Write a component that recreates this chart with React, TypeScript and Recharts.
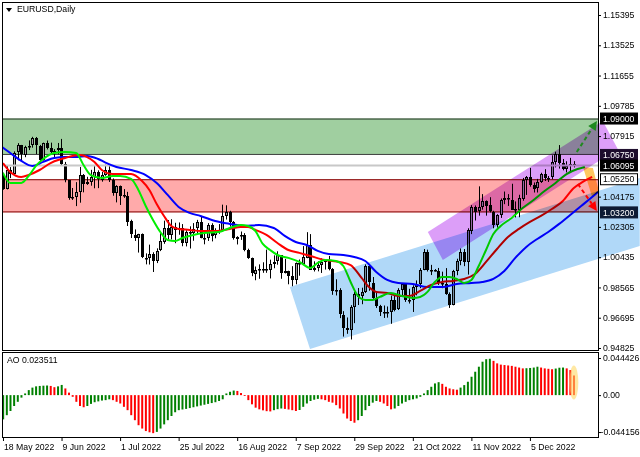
import React from "react";
import {
  Bar, Cell, ComposedChart, Line, ReferenceArea, ReferenceDot, ReferenceLine, XAxis, YAxis,
} from "recharts";

const FONT = "'Liberation Sans', Arial, sans-serif";
const FS = 8.7;

// daily bars [open, high, low, close], 18 May 2022 -> 21 Dec 2022
const barsMay = [
  [1.0550, 1.0565, 1.0460, 1.0465], [1.0465, 1.0606, 1.0462, 1.0585], [1.0585, 1.0600, 1.0532, 1.0563],
  [1.0563, 1.0697, 1.0557, 1.0690], [1.0690, 1.0748, 1.0642, 1.0734], [1.0734, 1.0737, 1.0643, 1.0676],
  [1.0676, 1.0732, 1.0661, 1.0726], [1.0726, 1.0765, 1.0705, 1.0733], [1.0733, 1.0787, 1.0720, 1.0778],
  [1.0778, 1.0786, 1.0680, 1.0733],
];
const barsJun = [
  [1.0733, 1.0737, 1.0627, 1.0648], [1.0648, 1.0751, 1.0640, 1.0750], [1.0750, 1.0764, 1.0709, 1.0719],
  [1.0719, 1.0751, 1.0683, 1.0696], [1.0696, 1.0711, 1.0652, 1.0702], [1.0702, 1.0749, 1.0679, 1.0715],
  [1.0715, 1.0774, 1.0611, 1.0617], [1.0617, 1.0632, 1.0506, 1.0518], [1.0518, 1.0520, 1.0398, 1.0407],
  [1.0407, 1.0471, 1.0397, 1.0414], [1.0414, 1.0507, 1.0359, 1.0445], [1.0445, 1.0601, 1.0380, 1.0550],
  [1.0550, 1.0557, 1.0444, 1.0495], [1.0495, 1.0540, 1.0490, 1.0508], [1.0508, 1.0583, 1.0485, 1.0537],
  [1.0537, 1.0606, 1.0469, 1.0567], [1.0567, 1.0580, 1.0470, 1.0522], [1.0522, 1.0570, 1.0510, 1.0554],
  [1.0554, 1.0615, 1.0546, 1.0584], [1.0584, 1.0606, 1.0508, 1.0520], [1.0520, 1.0530, 1.0423, 1.0442],
  [1.0442, 1.0488, 1.0382, 1.0484],
];
const barsJul = [
  [1.0484, 1.0486, 1.0366, 1.0425], [1.0425, 1.0464, 1.0410, 1.0424], [1.0424, 1.0447, 1.0236, 1.0265],
  [1.0265, 1.0275, 1.0162, 1.0182], [1.0182, 1.0215, 1.0144, 1.0161], [1.0161, 1.0188, 1.0072, 1.0185],
  [1.0185, 1.0190, 1.0038, 1.0040], [1.0040, 1.0067, 0.9999, 1.0037], [1.0037, 1.0121, 0.9998, 1.0063],
  [1.0063, 1.0074, 0.9952, 1.0019], [1.0019, 1.0098, 1.0007, 1.0083], [1.0083, 1.0200, 1.0081, 1.0141],
  [1.0141, 1.0269, 1.0126, 1.0226], [1.0226, 1.0273, 1.0154, 1.0180], [1.0180, 1.0278, 1.0153, 1.0229],
  [1.0229, 1.0256, 1.0130, 1.0211], [1.0211, 1.0258, 1.0182, 1.0224], [1.0224, 1.0248, 1.0111, 1.0133],
  [1.0133, 1.0210, 1.0110, 1.0198], [1.0198, 1.0234, 1.0097, 1.0196], [1.0196, 1.0254, 1.0145, 1.0220],
];
const barsAug = [
  [1.0220, 1.0274, 1.0187, 1.0260], [1.0260, 1.0294, 1.0160, 1.0163], [1.0163, 1.0196, 1.0123, 1.0165],
  [1.0165, 1.0254, 1.0144, 1.0245], [1.0245, 1.0253, 1.0141, 1.0180], [1.0180, 1.0222, 1.0160, 1.0196],
  [1.0196, 1.0248, 1.0188, 1.0211], [1.0211, 1.0368, 1.0201, 1.0298], [1.0298, 1.0364, 1.0276, 1.0320],
  [1.0320, 1.0330, 1.0232, 1.0258], [1.0258, 1.0267, 1.0152, 1.0160], [1.0160, 1.0173, 1.0122, 1.0170],
  [1.0170, 1.0202, 1.0150, 1.0178], [1.0178, 1.0192, 1.0080, 1.0088], [1.0088, 1.0096, 1.0033, 1.0037],
  [1.0037, 1.0041, 0.9926, 0.9942], [0.9942, 0.9986, 0.9901, 0.9967], [0.9967, 0.9999, 0.9910, 0.9970],
  [0.9970, 1.0012, 0.9947, 0.9973], [0.9973, 1.0090, 0.9947, 0.9964], [0.9964, 1.0028, 0.9912, 1.0004],
  [1.0004, 1.0055, 0.9975, 1.0016], [1.0016, 1.0080, 0.9997, 1.0055],
];
const barsSep = [
  [1.0055, 1.0056, 0.9910, 0.9945], [0.9945, 1.0033, 0.9943, 0.9956], [0.9956, 0.9960, 0.9876, 0.9928],
  [0.9928, 0.9988, 0.9864, 0.9904], [0.9904, 1.0011, 0.9876, 1.0009], [1.0009, 1.0029, 0.9929, 1.0000],
  [1.0000, 1.0112, 0.9995, 1.0042], [1.0042, 1.0198, 1.0037, 1.0121], [1.0121, 1.0186, 0.9966, 0.9968],
  [0.9968, 1.0018, 0.9955, 0.9978], [0.9978, 1.0018, 0.9956, 0.9998], [0.9998, 1.0036, 0.9946, 1.0014],
  [1.0014, 1.0030, 0.9967, 1.0027], [1.0027, 1.0051, 0.9962, 0.9971], [0.9971, 0.9976, 0.9811, 0.9837],
  [0.9837, 0.9907, 0.9807, 0.9838], [0.9838, 0.9852, 0.9667, 0.9688], [0.9688, 0.9710, 0.9553, 0.9607],
  [0.9607, 0.9671, 0.9570, 0.9593], [0.9593, 0.9747, 0.9535, 0.9735], [0.9735, 0.9830, 0.9636, 0.9817],
  [0.9817, 0.9853, 0.9748, 0.9801],
];
const barsOct = [
  [0.9801, 0.9855, 0.9753, 0.9827], [0.9827, 0.9999, 0.9822, 0.9986], [0.9986, 0.9997, 0.9836, 0.9885],
  [0.9885, 0.9921, 0.9786, 0.9792], [0.9792, 0.9828, 0.9730, 0.9740], [0.9740, 0.9749, 0.9680, 0.9701],
  [0.9701, 0.9745, 0.9668, 0.9705], [0.9705, 0.9739, 0.9670, 0.9703], [0.9703, 0.9806, 0.9632, 0.9780],
  [0.9780, 0.9809, 0.9709, 0.9719], [0.9719, 0.9852, 0.9717, 0.9838], [0.9838, 0.9876, 0.9805, 0.9875],
  [0.9875, 0.9876, 0.9767, 0.9775], [0.9775, 0.9848, 0.9757, 0.9780], [0.9780, 0.9870, 0.9705, 0.9862],
  [0.9862, 0.9900, 0.9808, 0.9880], [0.9880, 0.9976, 0.9852, 0.9965], [0.9965, 1.0094, 0.9963, 1.0076],
  [1.0076, 1.0090, 0.9955, 0.9965], [0.9965, 0.9996, 0.9933, 0.9966], [0.9966, 0.9970, 0.9955, 0.9960],
  [0.9960, 0.9977, 0.9872, 0.9883],
];
const barsNov = [
  [0.9883, 0.9954, 0.9852, 0.9878], [0.9878, 0.9976, 0.9811, 0.9818], [0.9818, 0.9826, 0.9730, 0.9750],
  [0.9750, 0.9965, 0.9746, 0.9959], [0.9959, 1.0034, 0.9932, 1.0020], [1.0020, 1.0097, 0.9994, 1.0074],
  [1.0074, 1.0094, 0.9988, 1.0012], [1.0012, 1.0222, 0.9936, 1.0209], [1.0209, 1.0365, 1.0186, 1.0356],
  [1.0356, 1.0363, 1.0270, 1.0328], [1.0328, 1.0481, 1.0300, 1.0353], [1.0353, 1.0433, 1.0337, 1.0392],
  [1.0392, 1.0394, 1.0300, 1.0364], [1.0364, 1.0414, 1.0320, 1.0325], [1.0325, 1.0330, 1.0222, 1.0244],
  [1.0244, 1.0309, 1.0226, 1.0304], [1.0304, 1.0406, 1.0286, 1.0396], [1.0396, 1.0449, 1.0371, 1.0408],
  [1.0408, 1.0433, 1.0360, 1.0399], [1.0399, 1.0497, 1.0335, 1.0339], [1.0339, 1.0388, 1.0289, 1.0331],
  [1.0331, 1.0429, 1.0290, 1.0406],
];
const barsDec = [
  [1.0406, 1.0533, 1.0392, 1.0522], [1.0522, 1.0545, 1.0428, 1.0539], [1.0539, 1.0595, 1.0479, 1.0491],
  [1.0491, 1.0505, 1.0443, 1.0468], [1.0468, 1.0527, 1.0443, 1.0507], [1.0507, 1.0565, 1.0502, 1.0555],
  [1.0555, 1.0587, 1.0514, 1.0533], [1.0533, 1.0545, 1.0508, 1.0535], [1.0535, 1.0673, 1.0525, 1.0630],
  [1.0630, 1.0695, 1.0598, 1.0680], [1.0680, 1.0736, 1.0591, 1.0625], [1.0625, 1.0650, 1.0580, 1.0585],
  [1.0585, 1.0636, 1.0567, 1.0606], [1.0606, 1.0657, 1.0570, 1.0621], [1.0621, 1.0637, 1.0598, 1.0610],
];

// alligator lines, [bar, price]
const jawLine = [
  [-0.3, 1.0724], [2, 1.0687], [5, 1.0638], [8, 1.0607], [11, 1.0632], [14, 1.0656], [17, 1.0662],
  [20, 1.0662], [23, 1.0669], [26, 1.0650], [28, 1.0628], [31, 1.0601], [35, 1.0582], [39, 1.0551],
  [42, 1.0502], [45, 1.0428], [48, 1.0354], [51, 1.0317], [54, 1.0298], [58, 1.0267], [62, 1.0249],
  [66, 1.0236], [70, 1.0242], [74, 1.0224], [77, 1.0175], [80, 1.0137], [83, 1.0119], [86, 1.0082],
  [89, 1.0063], [93, 1.0057], [96, 1.0045], [99, 1.0020], [102, 0.9952], [105, 0.9903], [108, 0.9884],
  [112, 0.9878], [116, 0.9859], [120, 0.9859], [124, 0.9878], [128, 0.9884], [131, 0.9890], [134, 0.9909],
  [137, 0.9958], [140, 1.0039], [143, 1.0107], [146, 1.0156], [149, 1.0199], [152, 1.0249], [155, 1.0304],
  [158, 1.0360], [161, 1.0415], [162.6, 1.0447],
];
const teethLine = [
  [0, 1.0625], [2, 1.0570], [5, 1.0539], [7, 1.0551], [10, 1.0582], [13, 1.0625], [16, 1.0650],
  [19, 1.0669], [21, 1.0675], [23, 1.0662], [25, 1.0632], [27, 1.0582], [30, 1.0557], [33, 1.0557],
  [35, 1.0557], [38, 1.0514], [40, 1.0459], [42, 1.0372], [44, 1.0298], [46, 1.0236], [48, 1.0218],
  [51, 1.0212], [54, 1.0205], [58, 1.0205], [62, 1.0218], [65, 1.0230], [67, 1.0230], [69, 1.0212],
  [72, 1.0181], [75, 1.0131], [78, 1.0088], [81, 1.0070], [84, 1.0051], [88, 1.0026], [92, 1.0014],
  [95, 0.9995], [98, 0.9915], [100, 0.9859], [102, 0.9829], [105, 0.9822], [108, 0.9804], [111, 0.9804],
  [114, 0.9835], [117, 0.9872], [120, 0.9890], [123, 0.9897], [126, 0.9909], [129, 0.9940], [132, 1.0014],
  [135, 1.0094], [138, 1.0168], [141, 1.0218], [144, 1.0261], [147, 1.0298], [150, 1.0341], [153, 1.0391],
  [156, 1.0471], [158, 1.0502], [161, 1.0539],
];
const lipsLine = [
  [0, 1.0564], [2, 1.0502], [5, 1.0502], [7, 1.0545], [9, 1.0607], [11, 1.0650], [14, 1.0687],
  [17, 1.0693], [20, 1.0687], [22, 1.0613], [24, 1.0551], [27, 1.0533], [30, 1.0545], [32, 1.0545],
  [35, 1.0527], [37, 1.0459], [39, 1.0360], [41, 1.0273], [43, 1.0199], [45, 1.0150], [47, 1.0144],
  [49, 1.0162], [52, 1.0181], [55, 1.0193], [59, 1.0199], [62, 1.0224], [65, 1.0242], [67, 1.0236],
  [69, 1.0205], [71, 1.0125], [73, 1.0088], [75, 1.0057], [78, 1.0039], [81, 1.0014], [84, 0.9977],
  [86, 1.0008], [88, 1.0026], [91, 1.0020], [93, 0.9989], [95, 0.9890], [97, 0.9804], [99, 0.9779],
  [101, 0.9779], [103, 0.9798], [106, 0.9822], [109, 0.9804], [112, 0.9792], [114, 0.9798], [116, 0.9829],
  [118, 0.9890], [120, 0.9921], [122, 0.9921], [124, 0.9909], [126, 0.9884], [128, 0.9903], [130, 0.9989],
  [132, 1.0088], [134, 1.0187], [136, 1.0236], [139, 1.0286], [142, 1.0347], [145, 1.0397], [148, 1.0452],
  [151, 1.0502], [154, 1.0557], [157, 1.0588], [159, 1.0601],
];

// Awesome Oscillator, one value per bar
const aoMay = [-0.029, -0.024, -0.019, -0.013, -0.008, -0.003, 0.002, 0.006, 0.009, 0.0105];
const aoJun = [
  0.011, 0.0113, 0.0115, 0.011, 0.0095, 0.0105, 0.0122, 0.008, 0.003, -0.002, -0.008,
  -0.013, -0.0145, -0.013, -0.0105, -0.0085, -0.0075, -0.0065, -0.006, -0.005, -0.006, -0.008,
];
const aoJul = [
  -0.010, -0.014, -0.018, -0.024, -0.030, -0.036, -0.040, -0.043, -0.0445, -0.0455, -0.044,
  -0.040, -0.035, -0.030, -0.025, -0.0205, -0.018, -0.0172, -0.0165, -0.0155, -0.0145,
];
const aoAug = [
  -0.0135, -0.0125, -0.0115, -0.0105, -0.0095, -0.0085, -0.007, -0.005, 0.002, 0.004, 0.0055, 0.005,
  0.0025, -0.001, -0.006, -0.011, -0.015, -0.017, -0.0182, -0.0192, -0.0195, -0.018, -0.0168,
];
const aoSep = [
  -0.016, -0.0165, -0.0172, -0.018, -0.019, -0.0178, -0.014, -0.010, -0.007, -0.0055, -0.0045,
  -0.005, -0.006, -0.008, -0.009, -0.012, -0.016, -0.022, -0.028, -0.031, -0.033, -0.030,
];
const aoOct = [
  -0.025, -0.018, -0.013, -0.009, -0.007, -0.008, -0.010, -0.013, -0.017, -0.016, -0.013,
  -0.010, -0.008, -0.006, -0.005, -0.004, -0.002, 0.002, 0.006, 0.010, 0.014, 0.0155,
];
const aoNov = [
  0.0135, 0.010, 0.008, 0.007, 0.0065, 0.009, 0.012, 0.016, 0.022, 0.028, 0.034,
  0.040, 0.043, 0.0435, 0.041, 0.038, 0.0365, 0.036, 0.0355, 0.035, 0.034, 0.033,
];
const aoDec = [
  0.032, 0.0322, 0.0325, 0.033, 0.034, 0.033, 0.032, 0.0315, 0.031, 0.0318, 0.0328,
  0.033, 0.032, 0.030, 0.023511,
];

const priceTicks = [1.15395, 1.13525, 1.11655, 1.09785, 1.07915, 1.04175, 1.02305, 1.00435, 0.98565, 0.96695, 0.94825];
const levelPrices = [1.09, 1.0675, 1.06095, 1.0525, 1.032];
const aoTicks = [0.044426, 0, -0.044156];
const aoTickLabels = ["0.044426", "0.00", "-0.044156"];
const dateTickBars = [0, 16, 32, 48, 64, 80, 96, 112, 128, 144];
const dateLabels = [
  "18 May 2022", "9 Jun 2022", "1 Jul 2022", "25 Jul 2022", "16 Aug 2022",
  "7 Sep 2022", "29 Sep 2022", "21 Oct 2022", "11 Nov 2022", "5 Dec 2022",
];

// drawn objects, in [bar, price]
const blueChannel = [[78.4, 0.98595], [174, 1.05327], [174, 1.01127], [83.9, 0.94765]];
const purpleChannel = [[116.1, 1.01992], [163.9, 1.08848], [168.0, 1.07118], [120.2, 1.00262]];
const orangeMark = [[158.5, 1.06006], [161.2, 1.05945], [162.9, 1.04462], [160.9, 1.04215]];
const upArrow = [[156.8, 1.06933], [162.3, 1.08848]];
const downArrow = [[157.1, 1.04956], [162.3, 1.03289]];

const LEVEL_STYLES = [
  { bg: "#000000", fg: "#ffffff", bd: "#000000" },
  { bg: "#1c0c2c", fg: "#ffffff", bd: "#1c0c2c" },
  { bg: "#000000", fg: "#ffffff", bd: "#000000" },
  { bg: "#ffffff", fg: "#000000", bd: "#000000" },
  { bg: "#0c1a34", fg: "#ffffff", bd: "#0c1a34" },
];

const X_DOMAIN: [number, number] = [-0.27, 162.6];
const PRICE_DOMAIN: [number, number] = [0.94701, 1.16198];
const AO_DOMAIN: [number, number] = [-0.0501, 0.0516];
const REF_BOX = { x1: 0, x2: 100, y1: 1.0, y2: 1.1 };
const MULT = { mixBlendMode: "multiply" as const };

const candleRows = [...barsMay, ...barsJun, ...barsJul, ...barsAug, ...barsSep, ...barsOct, ...barsNov, ...barsDec]
  .map(([o, h, l, c], i) => ({ i, o, h, l, c }));
const toPts = (arr: number[][]) => arr.map(([i, v]) => ({ i, v }));
const aoValues = [...aoMay, ...aoJun, ...aoJul, ...aoAug, ...aoSep, ...aoOct, ...aoNov, ...aoDec];
const aoRows = aoValues.map((v, i) => ({ i, v }));
const aoColors: string[] = [];
aoValues.forEach((v, i) => {
  if (i === 0) aoColors.push("#008000");
  else if (v > aoValues[i - 1]) aoColors.push("#008000");
  else if (v < aoValues[i - 1]) aoColors.push("#ff0000");
  else aoColors.push(aoColors[i - 1]);
});

function Candle(props: any) {
  const { x, y, width, height, payload } = props;
  if (!payload) return null;
  const { o, h, l, c } = payload;
  const top = Math.min(y, y + height);
  const k = Math.abs(height) / (h - l);
  const yO = top + (h - o) * k;
  const yC = top + (h - c) * k;
  const cx = Math.round(x + width / 2);
  const bTop = Math.round(Math.min(yO, yC));
  const bH = Math.max(1, Math.round(Math.abs(yO - yC)));
  const up = c >= o;
  return (
    <g>
      <line x1={cx + 0.5} x2={cx + 0.5} y1={top} y2={top + Math.abs(height)} stroke="#000" strokeWidth={1} />
      <rect x={cx - 0.5} y={bTop + 0.5} width={2} height={Math.max(bH - 1, 0.5)}
        fill={up ? "#a8a8a8" : "#000"} stroke="#000" strokeWidth={1} />
    </g>
  );
}

function Zone({ fill, topLine, bottomLine }: { fill: string; topLine: string; bottomLine: string }) {
  return (p: any) => (
    <g>
      <rect x={p.x} y={p.y} width={p.width} height={p.height} fill={fill} style={MULT} />
      <line x1={p.x} x2={p.x + p.width} y1={p.y + 0.5} y2={p.y + 0.5} stroke={topLine} />
      <line x1={p.x} x2={p.x + p.width} y1={p.y + p.height - 0.5} y2={p.y + p.height - 0.5} stroke={bottomLine} />
    </g>
  );
}

function arrowShape(X: (i: number) => number, Y: (v: number) => number, seg: number[][], color: string) {
  const x1 = X(seg[0][0]), y1 = Y(seg[0][1]), x2 = X(seg[1][0]), y2 = Y(seg[1][1]);
  const len = Math.hypot(x2 - x1, y2 - y1);
  const ux = (x2 - x1) / len, uy = (y2 - y1) / len;
  const hx = x2 - ux * 9, hy = y2 - uy * 9;
  const nx = -uy * 4.5, ny = ux * 4.5;
  return (
    <g>
      <line x1={x1} y1={y1} x2={hx} y2={hy} stroke={color} strokeWidth={2} strokeDasharray="4 3" />
      <polygon points={`${x2},${y2} ${hx + nx},${hy + ny} ${hx - nx},${hy - ny}`} fill={color} />
    </g>
  );
}

function Drawings(p: any) {
  const sx = p.width / (REF_BOX.x2 - REF_BOX.x1);
  const sy = p.height / (REF_BOX.y2 - REF_BOX.y1);
  const X = (i: number) => p.x + (i - REF_BOX.x1) * sx;
  const Y = (v: number) => p.y + (REF_BOX.y2 - v) * sy;
  const pts = (arr: number[][]) => arr.map(([i, v]) => `${X(i)},${Y(v)}`).join(" ");
  return (
    <g>
      <polygon points={pts(blueChannel)} fill="#b0d8f8" style={MULT} />
      <polygon points={pts(purpleChannel)} fill="#dc9ef8" style={MULT} />
      <polygon points={pts(orangeMark)} fill="#ffc860" style={MULT} />
      {arrowShape(X, Y, upArrow, "#1f8a1f")}
      {arrowShape(X, Y, downArrow, "#ff0000")}
    </g>
  );
}

function PriceTick(props: any) {
  const { x, y, payload } = props;
  const v = payload.value;
  const k = levelPrices.indexOf(v);
  if (k >= 0) {
    const st = LEVEL_STYLES[k];
    return (
      <g>
        <rect x={x + 2.5} y={y - 5.5} width={37} height={11} fill={st.bg} stroke={st.bd} />
        <text x={x + 5} y={y + 3.2} fill={st.fg} fontFamily={FONT} fontSize={FS}>{v.toFixed(5)}</text>
      </g>
    );
  }
  return (
    <g>
      <line x1={x} x2={x + 3} y1={y + 0.5} y2={y + 0.5} stroke="#000" />
      <text x={x + 5} y={y + 3.2} fill="#000" fontFamily={FONT} fontSize={FS}>{v.toFixed(5)}</text>
    </g>
  );
}

function AoTick(props: any) {
  const { x, y, payload } = props;
  const k = aoTicks.indexOf(payload.value);
  const label = aoTickLabels[k];
  return (
    <g>
      <line x1={x} x2={x + 3} y1={y + 0.5} y2={y + 0.5} stroke="#000" />
      <text x={label.startsWith("-") ? x + 2.5 : x + 5} y={y + 3.2} fill="#000" fontFamily={FONT} fontSize={FS}>{label}</text>
    </g>
  );
}

function DateTick(props: any) {
  const { x, y, payload } = props;
  const k = dateTickBars.indexOf(payload.value);
  return (
    <g>
      <line x1={x + 0.5} x2={x + 0.5} y1={y} y2={y + 4} stroke="#000" />
      <text x={x + 1} y={y + 13} fill="#000" fontFamily={FONT} fontSize={FS}>{dateLabels[k]}</text>
    </g>
  );
}

const frame = (top: number, h: number): React.CSSProperties => ({
  position: "absolute", left: 2, top, width: 597, height: h, border: "1px solid #000",
  boxSizing: "border-box", pointerEvents: "none",
});

export default function App() {
  return (
    <div style={{ position: "absolute", left: 0, top: 0, width: 640, height: 457, background: "#fff", overflow: "hidden" }}>
      <div style={{ position: "absolute", left: 0, top: 351 }}>
        <ComposedChart width={640} height={106} data={aoRows} margin={{ top: 1, right: 0, bottom: 0, left: 2 }}>
          <XAxis dataKey="i" type="number" domain={X_DOMAIN} allowDataOverflow ticks={dateTickBars} interval={0}
            height={20} tickSize={0} tickMargin={0} axisLine={false} tickLine={false} tick={<DateTick />} />
          <YAxis orientation="right" width={42} domain={AO_DOMAIN} allowDataOverflow ticks={aoTicks} interval={0}
            tickSize={0} tickMargin={0} axisLine={false} tickLine={false} tick={<AoTick />} />
          <Bar dataKey="v" barSize={2} isAnimationActive={false}>
            {aoRows.map((r) => <Cell key={r.i} fill={aoColors[r.i]} />)}
          </Bar>
          <ReferenceDot x={156} y={0.0152} r={4} ifOverflow="visible"
            shape={(p: any) => <ellipse cx={p.cx} cy={p.cy} rx={4.5} ry={17} fill="#ffd966" fillOpacity={0.6} />} />
        </ComposedChart>
      </div>
      <div style={{ position: "absolute", left: 0, top: 0 }}>
        <ComposedChart width={640} height={359} data={candleRows} margin={{ top: 2, right: 0, bottom: 9, left: 2 }}>
          <XAxis dataKey="i" type="number" domain={X_DOMAIN} allowDataOverflow hide />
          <YAxis orientation="right" width={42} domain={PRICE_DOMAIN} allowDataOverflow ticks={[...priceTicks, ...levelPrices]}
            interval={0} tickSize={0} tickMargin={0} axisLine={false} tickLine={false} tick={<PriceTick />} />
          <ReferenceArea y1={1.0675} y2={1.09} ifOverflow="visible"
            shape={Zone({ fill: "#a0cfa0", topLine: "#203020", bottomLine: "#404040" })} />
          <ReferenceArea y1={1.032} y2={1.0525} ifOverflow="visible"
            shape={Zone({ fill: "#ffaaaa", topLine: "#800000", bottomLine: "#800000" })} />
          <ReferenceLine y={1.06095} stroke="#c8c8c8" strokeWidth={2} />
          <Bar dataKey={(d: any) => [d.l, d.h]} barSize={3} isAnimationActive={false} shape={Candle} />
          <Line data={toPts(jawLine)} dataKey="v" type="monotone" stroke="#0000ff" strokeWidth={2} dot={false} isAnimationActive={false} />
          <Line data={toPts(teethLine)} dataKey="v" type="monotone" stroke="#ff0000" strokeWidth={2} dot={false} isAnimationActive={false} />
          <Line data={toPts(lipsLine)} dataKey="v" type="monotone" stroke="#00ee00" strokeWidth={2} dot={false} isAnimationActive={false} />
          <ReferenceArea x1={REF_BOX.x1} x2={REF_BOX.x2} y1={REF_BOX.y1} y2={REF_BOX.y2} ifOverflow="visible"
            shape={Drawings} {...({ zIndex: 1000 } as any)} />
        </ComposedChart>
      </div>
      <div style={frame(2, 349)} />
      <div style={frame(352, 86)} />
      <div style={{ position: "absolute", left: 6, top: 8, width: 0, height: 0, borderLeft: "3px solid transparent", borderRight: "3px solid transparent", borderTop: "4px solid #000" }} />
      <div style={{ position: "absolute", left: 17, top: 4, fontFamily: FONT, fontSize: FS, color: "#000", lineHeight: "11px" }}>EURUSD,Daily</div>
      <div style={{ position: "absolute", left: 7, top: 355, fontFamily: FONT, fontSize: FS, color: "#000", lineHeight: "11px" }}>AO 0.023511</div>
    </div>
  );
}
